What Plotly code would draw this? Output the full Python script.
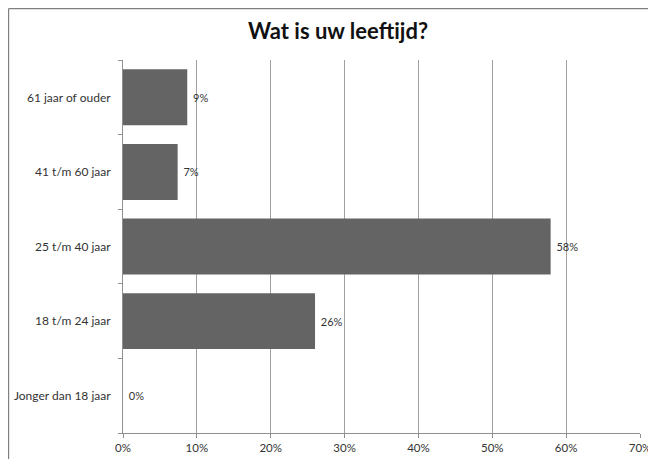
import plotly.graph_objects as go

categories = ["Jonger dan 18 jaar", "18 t/m 24 jaar", "25 t/m 40 jaar", "41 t/m 60 jaar", "61 jaar of ouder"]
values = [0.0, 26.0, 57.9, 7.4, 8.7]
x_ticks = [0, 10, 20, 30, 40, 50, 60, 70]
x_tick_labels = ["0%", "10%", "20%", "30%", "40%", "50%", "60%", "70%"]
title_text = "Wat is uw leeftijd?"

labels = [f"\u00a0{round(v)}%" for v in values]

font_family = "Lato, 'Open Sans', sans-serif"

W, H = 648, 451
L, T, R, B = 115, 52, 16, 26
PW, PH = W - L - R, H - T - B

fig = go.Figure(
    go.Bar(
        x=values,
        y=categories,
        orientation="h",
        marker=dict(color="#646464", line=dict(width=0)),
        text=labels,
        textposition="outside",
        cliponaxis=False,
        textfont=dict(family=font_family, size=11, color="#333333"),
    )
)

fig.update_layout(
    width=W,
    height=H,
    margin=dict(l=L, r=R, t=T, b=B, autoexpand=False),
    paper_bgcolor="white",
    plot_bgcolor="white",
    bargap=0.25,
    showlegend=False,
    title=dict(
        text=f"<b>{title_text}</b>",
        x=330 / W,
        xanchor="center",
        y=1 - 23 / H,
        yanchor="middle",
        font=dict(family=font_family, size=22, color="#111111"),
    ),
    font=dict(family=font_family, size=12, color="#333333"),
)

fig.update_xaxes(
    range=[0, 70],
    tickvals=x_ticks,
    ticktext=x_tick_labels,
    showgrid=True,
    gridcolor="#a0a0a0",
    gridwidth=1.3,
    zeroline=False,
    showline=True,
    linecolor="#909090",
    linewidth=1,
    ticks="outside",
    ticklen=4,
    tickcolor="#909090",
    tickfont=dict(family=font_family, size=11.5, color="#333333"),
    automargin=False,
    fixedrange=True,
)

fig.update_yaxes(
    showgrid=False,
    zeroline=False,
    showline=True,
    linecolor="#909090",
    linewidth=1,
    ticks="outside",
    tickson="boundaries",
    ticklen=4,
    tickcolor="#909090",
    tickfont=dict(family=font_family, size=12, color="#333333"),
    ticklabelstandoff=9,
    automargin=False,
    fixedrange=True,
)

# outer frame lines (as in the scanned reference)
frame = dict(type="line", xref="paper", yref="paper", line=dict(color="#808080", width=1.2))
top_y = (PH + T - 0.6) / PH
left_x = (0.6 - L) / PW
fig.add_shape(**frame, x0=left_x, x1=(W - L) / PW, y0=top_y, y1=top_y)
fig.add_shape(**frame, x0=left_x, x1=left_x, y0=top_y, y1=-B / PH)

fig.write_html("out.html")
